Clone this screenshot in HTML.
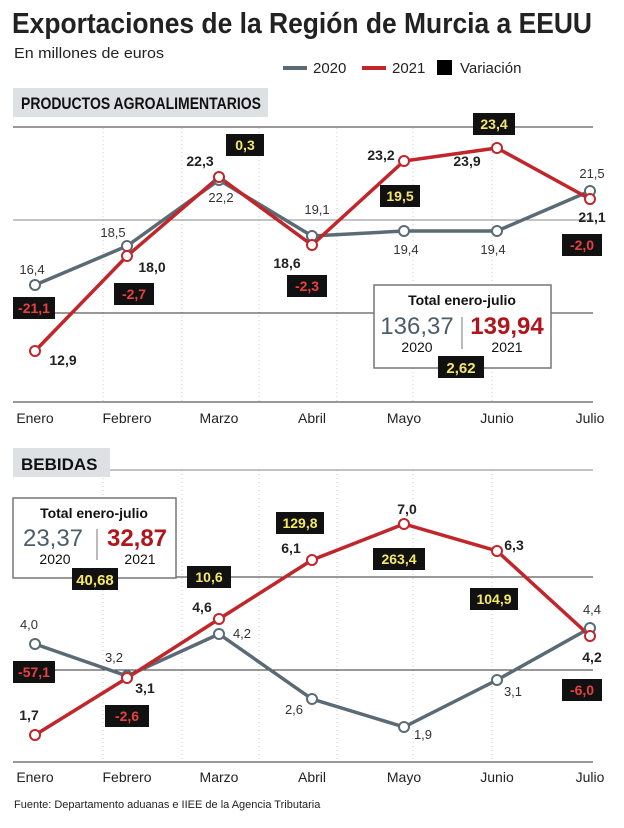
<!DOCTYPE html>
<html><head><meta charset="utf-8"><style>
body{margin:0;background:#fff;}
svg text{font-family:"Liberation Sans",sans-serif;}
</style></head><body>
<svg width="624" height="823" viewBox="0 0 624 823" xmlns="http://www.w3.org/2000/svg">
<rect width="624" height="823" fill="#fff"/>
<text x="12" y="33" font-size="29" font-weight="bold" fill="#222" textLength="580" lengthAdjust="spacingAndGlyphs">Exportaciones de la Región de Murcia a EEUU</text>
<text x="14" y="58" font-size="15" fill="#222" textLength="150" lengthAdjust="spacingAndGlyphs">En millones de euros</text>
<line x1="283" y1="68" x2="307" y2="68" stroke="#5b6b75" stroke-width="4"/>
<text x="313" y="73" font-size="15" fill="#222">2020</text>
<line x1="362" y1="68" x2="386" y2="68" stroke="#c0262a" stroke-width="4"/>
<text x="392" y="73" font-size="15" fill="#222">2021</text>
<rect x="437" y="60" width="15" height="15" fill="#000"/>
<text x="460" y="73" font-size="15" fill="#222">Variación</text>

<rect x="13" y="88" width="255" height="29" fill="#dde1e3"/>
<text x="21" y="109" font-size="17" font-weight="bold" fill="#111" textLength="240" lengthAdjust="spacingAndGlyphs">PRODUCTOS AGROALIMENTARIOS</text>
<g stroke="#ccc" stroke-dasharray="1,3">
<line x1="103" y1="128" x2="103" y2="402"/><line x1="182" y1="128" x2="182" y2="402"/><line x1="259" y1="128" x2="259" y2="402"/><line x1="337" y1="128" x2="337" y2="402"/><line x1="413" y1="128" x2="413" y2="402"/><line x1="492" y1="128" x2="492" y2="402"/>
<line x1="103" y1="470" x2="103" y2="762"/><line x1="182" y1="470" x2="182" y2="762"/><line x1="259" y1="470" x2="259" y2="762"/><line x1="337" y1="470" x2="337" y2="762"/><line x1="413" y1="470" x2="413" y2="762"/><line x1="492" y1="470" x2="492" y2="762"/>
</g>
<g stroke="#333" stroke-width="1">
<line x1="13" y1="127" x2="593" y2="127"/><line x1="13" y1="220" x2="593" y2="220" stroke="#888"/><line x1="13" y1="313" x2="593" y2="313"/><line x1="13" y1="402" x2="593" y2="402"/>
<line x1="13" y1="470" x2="593" y2="470" stroke="#888"/><line x1="13" y1="577" x2="593" y2="577"/><line x1="13" y1="670" x2="593" y2="670"/><line x1="13" y1="762" x2="593" y2="762"/>
</g>
<g font-size="14" fill="#222" text-anchor="middle">
<text x="35" y="423">Enero</text><text x="127" y="423">Febrero</text><text x="219" y="423">Marzo</text><text x="312" y="423">Abril</text><text x="404" y="423">Mayo</text><text x="497" y="423">Junio</text><text x="590" y="423">Julio</text>
<text x="35" y="782">Enero</text><text x="127" y="782">Febrero</text><text x="219" y="782">Marzo</text><text x="312" y="782">Abril</text><text x="404" y="782">Mayo</text><text x="497" y="782">Junio</text><text x="590" y="782">Julio</text>
</g>
<!-- top chart -->
<polyline fill="none" stroke="#5b6b75" stroke-width="3.5" points="35,285 127,246 219,180 312,236 404,231 497,231 590,191"/>
<polyline fill="none" stroke="#c0262a" stroke-width="3.5" points="35,351 127,256 219,177 312,245 404,161 497,148 590,199"/>
<g fill="#fff" stroke-width="2">
<g stroke="#5b6b75"><circle cx="35" cy="285" r="5"/><circle cx="127" cy="246" r="5"/><circle cx="219" cy="180" r="5"/><circle cx="312" cy="236" r="5"/><circle cx="404" cy="231" r="5"/><circle cx="497" cy="231" r="5"/><circle cx="590" cy="191" r="5"/></g>
<g stroke="#c0262a"><circle cx="35" cy="351" r="5"/><circle cx="127" cy="256" r="5"/><circle cx="219" cy="177" r="5"/><circle cx="312" cy="245" r="5"/><circle cx="404" cy="161" r="5"/><circle cx="497" cy="148" r="5"/><circle cx="590" cy="199" r="5"/></g>
</g>
<g font-size="13" fill="#333" text-anchor="middle">
<text x="32" y="274">16,4</text><text x="113" y="237">18,5</text><text x="221" y="202">22,2</text><text x="317" y="214">19,1</text><text x="406" y="254">19,4</text><text x="493" y="254">19,4</text><text x="592" y="178">21,5</text>
</g>
<g font-size="14" font-weight="bold" fill="#222" text-anchor="middle">
<text x="63" y="365">12,9</text><text x="152" y="272">18,0</text><text x="200" y="166">22,3</text><text x="287" y="268">18,6</text><text x="381" y="160">23,2</text><text x="467" y="166">23,9</text><text x="592" y="222">21,1</text>
</g>
<g font-size="14" font-weight="bold" text-anchor="middle">
<rect x="13" y="297" width="42" height="22" fill="#111"/><text x="34" y="313" fill="#e8403f">-21,1</text>
<rect x="114" y="283" width="40" height="22" fill="#111"/><text x="134" y="299" fill="#e8403f">-2,7</text>
<rect x="226" y="134" width="38" height="22" fill="#111"/><text x="245" y="150" fill="#f5e76a">0,3</text>
<rect x="287" y="275" width="40" height="22" fill="#111"/><text x="307" y="291" fill="#e8403f">-2,3</text>
<rect x="380" y="185" width="40" height="22" fill="#111"/><text x="400" y="201" fill="#f5e76a">19,5</text>
<rect x="473" y="113" width="42" height="22" fill="#111"/><text x="494" y="129" fill="#f5e76a">23,4</text>
<rect x="562" y="234" width="40" height="22" fill="#111"/><text x="582" y="250" fill="#e8403f">-2,0</text>
</g>
<rect x="374" y="285" width="177" height="83" fill="#fff" stroke="#777" stroke-width="1.5"/>
<text x="462" y="305" font-size="14" font-weight="bold" fill="#111" text-anchor="middle">Total enero-julio</text>
<text x="417" y="334" font-size="24" fill="#4d5d68" text-anchor="middle">136,37</text>
<text x="507" y="334" font-size="24" fill="#b0151b" font-weight="bold" text-anchor="middle">139,94</text>
<line x1="462" y1="317" x2="462" y2="349" stroke="#777"/>
<text x="417" y="352" font-size="14" fill="#111" text-anchor="middle">2020</text>
<text x="507" y="352" font-size="14" fill="#111" text-anchor="middle">2021</text>
<rect x="438" y="356" width="46" height="22" fill="#111"/><text x="461" y="373" font-size="15" font-weight="bold" fill="#f5e76a" text-anchor="middle">2,62</text>

<!-- bottom chart -->
<rect x="13" y="448" width="97" height="29" fill="#dde1e3"/>
<text x="21" y="470" font-size="17" font-weight="bold" fill="#111">BEBIDAS</text>
<polyline fill="none" stroke="#5b6b75" stroke-width="3.5" points="35,644 127,676 219,634 312,699 404,727 497,680 590,628"/>
<polyline fill="none" stroke="#c0262a" stroke-width="3.5" points="35,735 127,678 219,619 312,560 404,524 497,551 590,636"/>
<g fill="#fff" stroke-width="2">
<g stroke="#5b6b75"><circle cx="35" cy="644" r="5"/><circle cx="127" cy="676" r="5"/><circle cx="219" cy="634" r="5"/><circle cx="312" cy="699" r="5"/><circle cx="404" cy="727" r="5"/><circle cx="497" cy="680" r="5"/><circle cx="590" cy="628" r="5"/></g>
<g stroke="#c0262a"><circle cx="35" cy="735" r="5"/><circle cx="127" cy="678" r="5"/><circle cx="219" cy="619" r="5"/><circle cx="312" cy="560" r="5"/><circle cx="404" cy="524" r="5"/><circle cx="497" cy="551" r="5"/><circle cx="590" cy="636" r="5"/></g>
</g>
<g font-size="13" fill="#333" text-anchor="middle">
<text x="29" y="629">4,0</text><text x="114" y="662">3,2</text><text x="242" y="638">4,2</text><text x="294" y="714">2,6</text><text x="423" y="739">1,9</text><text x="513" y="696">3,1</text><text x="592" y="614">4,4</text>
</g>
<g font-size="14" font-weight="bold" fill="#222" text-anchor="middle">
<text x="29" y="720">1,7</text><text x="145" y="693">3,1</text><text x="202" y="612">4,6</text><text x="291" y="553">6,1</text><text x="407" y="514">7,0</text><text x="514" y="550">6,3</text><text x="592" y="662">4,2</text>
</g>
<g font-size="14" font-weight="bold" text-anchor="middle">
<rect x="13" y="661" width="42" height="22" fill="#111"/><text x="34" y="677" fill="#e8403f">-57,1</text>
<rect x="105" y="705" width="44" height="22" fill="#111"/><text x="127" y="721" fill="#e8403f">-2,6</text>
<rect x="187" y="566" width="44" height="22" fill="#111"/><text x="209" y="582" fill="#f5e76a">10,6</text>
<rect x="276" y="512" width="48" height="22" fill="#111"/><text x="300" y="528" fill="#f5e76a">129,8</text>
<rect x="373" y="548" width="52" height="22" fill="#111"/><text x="399" y="564" fill="#f5e76a">263,4</text>
<rect x="470" y="588" width="48" height="22" fill="#111"/><text x="494" y="604" fill="#f5e76a">104,9</text>
<rect x="562" y="679" width="40" height="22" fill="#111"/><text x="582" y="695" fill="#e8403f">-6,0</text>
</g>
<rect x="13" y="498" width="163" height="80" fill="#fff" stroke="#777" stroke-width="1.5"/>
<text x="94" y="518" font-size="14" font-weight="bold" fill="#111" text-anchor="middle">Total enero-julio</text>
<text x="53" y="546" font-size="24" fill="#4d5d68" text-anchor="middle">23,37</text>
<text x="137" y="546" font-size="24" fill="#b0151b" font-weight="bold" text-anchor="middle">32,87</text>
<line x1="97" y1="529" x2="97" y2="560" stroke="#777"/>
<text x="55" y="564" font-size="14" fill="#111" text-anchor="middle">2020</text>
<text x="140" y="564" font-size="14" fill="#111" text-anchor="middle">2021</text>
<rect x="72" y="568" width="46" height="22" fill="#111"/><text x="95" y="585" font-size="15" font-weight="bold" fill="#f5e76a" text-anchor="middle">40,68</text>

<text x="14" y="808" font-size="11" fill="#222">Fuente: Departamento aduanas e IIEE de la Agencia Tributaria</text>
</svg>
</body></html>
